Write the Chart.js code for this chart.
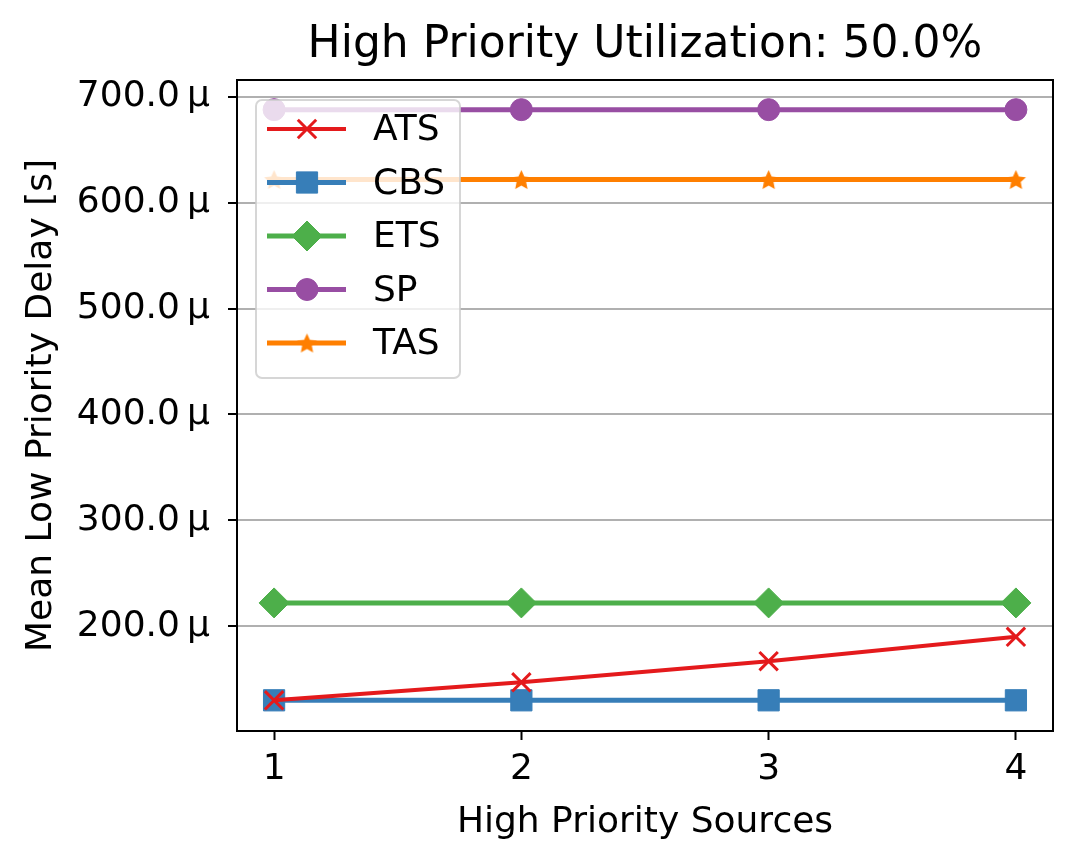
<!DOCTYPE html>
<html>
<head>
<meta charset="utf-8">
<script src="https://cdn.jsdelivr.net/npm/chart.js@4/dist/chart.umd.min.js"></script>
<style>
  html, body { margin: 0; padding: 0; background: #fff; }
  #wrap { width: 1080px; height: 868px; }
</style>
</head>
<body>
<div id="wrap"><canvas id="delayChart" width="1080" height="868"></canvas></div>
<script>
// values in microseconds
const sources = [1, 2, 3, 4];
const atsDelay = [130, 147, 167, 190];
const cbsDelay = [130, 130, 130, 130];
const etsDelay = [222, 222, 222, 222];
const spDelay = [688, 688, 688, 688];
const tasDelay = [622, 622, 622, 622];
const yTicks = [200, 300, 400, 500, 600, 700];
const xTicks = [1, 2, 3, 4];
const chartTitle = 'High Priority Utilization: 50.0%';

// matplotlib-style filled star marker
function makeStar(color, r) {
    const c = document.createElement('canvas');
    const s = Math.ceil(r * 2 + 2);
    c.width = s; c.height = s;
    const g = c.getContext('2d');
    g.fillStyle = color;
    g.beginPath();
    for (let i = 0; i < 10; i++) {
        const rad = i % 2 === 0 ? r : r * 0.48;
        const a = -Math.PI / 2 + i * Math.PI / 5;
        const px = s / 2 + rad * Math.cos(a), py = s / 2 + 1 + rad * Math.sin(a);
        i === 0 ? g.moveTo(px, py) : g.lineTo(px, py);
    }
    g.closePath();
    g.fill();
    return c;
}

function series(label, values, color, style, radius, width) {
    return {
        label: label,
        data: sources.map((x, i) => ({ x: x, y: values[i] })),
        borderColor: color,
        backgroundColor: color,
        borderWidth: width,
        pointStyle: style,
        pointRadius: radius,
        pointBorderColor: color,
        pointBackgroundColor: color,
        pointBorderWidth: style === 'crossRot' ? 3 : 1,
        tension: 0
    };
}

const datasets = [
    series('ATS', atsDelay, '#e41a1c', 'crossRot', 13, 4),
    series('CBS', cbsDelay, '#377eb8', 'rect', 15, 5),
    series('ETS', etsDelay, '#4daf4a', 'rectRot', 15, 5),
    series('SP', spDelay, '#984ea3', 'circle', 11, 5),
    series('TAS', tasDelay, '#ff7f00', makeStar('#ff7f00', 10.5), 10, 5)
];

// title over the axes, legend box inside the axes, top/right spines
const boxPlugin = {
    id: 'boxPlugin',
    afterDraw(chart) {
        const ctx = chart.ctx;
        const a = chart.chartArea;
        ctx.save();
        ctx.strokeStyle = '#000';
        ctx.lineWidth = 2;
        ctx.strokeRect(a.left, a.top, a.right - a.left, a.bottom - a.top);

        ctx.fillStyle = '#000';
        ctx.font = '44px "DejaVu Sans"';
        ctx.textAlign = 'center';
        ctx.textBaseline = 'middle';
        ctx.fillText(chartTitle, (a.left + a.right) / 2, 46);

        const lx = 256, ly = 100, lw = 204, lh = 278;
        ctx.fillStyle = 'rgba(255,255,255,0.8)';
        ctx.strokeStyle = 'rgba(204,204,204,0.8)';
        ctx.lineWidth = 2;
        ctx.beginPath();
        ctx.roundRect(lx, ly, lw, lh, 6);
        ctx.fill();
        ctx.stroke();

        ctx.font = '36px "DejaVu Sans"';
        ctx.textBaseline = 'middle';
        ctx.textAlign = 'left';
        chart.data.datasets.forEach((ds, i) => {
            const y = ly + 29 + i * 53.5;
            ctx.strokeStyle = ds.borderColor;
            ctx.lineWidth = ds.borderWidth;
            ctx.beginPath();
            ctx.moveTo(lx + 11, y);
            ctx.lineTo(lx + 90, y);
            ctx.stroke();
            ctx.fillStyle = ds.pointBackgroundColor;
            ctx.strokeStyle = ds.pointBorderColor;
            ctx.lineWidth = ds.pointBorderWidth;
            Chart.helpers.drawPoint(ctx, {
                pointStyle: ds.pointStyle,
                radius: ds.pointRadius,
                borderWidth: ds.pointBorderWidth,
                rotation: 0
            }, lx + 51, y);
            ctx.fillStyle = '#000';
            ctx.fillText(ds.label, lx + 117, y + 2);
        });
        ctx.restore();
    }
};

const ctx = document.getElementById('delayChart').getContext('2d');
new Chart(ctx, {
    type: 'line',
    data: { datasets: datasets },
    plugins: [boxPlugin],
    options: {
        responsive: false,
        devicePixelRatio: 1,
        animation: false,
        layout: { padding: { left: 0, right: 27, top: 80, bottom: 0 } },
        plugins: {
            legend: { display: false },
            tooltip: { enabled: false },
            title: { display: false }
        },
        scales: {
            x: {
                type: 'linear',
                min: 0.85,
                max: 4.15,
                afterBuildTicks: s => { s.ticks = xTicks.map(v => ({ value: v })); },
                afterFit: s => { s.height = 137; },
                grid: { drawOnChartArea: false, tickLength: 9, tickWidth: 2, tickColor: '#000' },
                border: { color: '#000', width: 2 },
                ticks: {
                    color: '#000',
                    padding: 8,
                    font: { family: 'DejaVu Sans', size: 36 },
                    callback: v => String(v)
                },
                title: {
                    display: true,
                    text: 'High Priority Sources',
                    color: '#000',
                    font: { family: 'DejaVu Sans', size: 36 },
                    padding: { top: 8, bottom: 24 }
                }
            },
            y: {
                type: 'linear',
                min: 101,
                max: 716,
                afterBuildTicks: s => { s.ticks = yTicks.map(v => ({ value: v })); },
                afterFit: s => { s.width = 237; },
                grid: { color: '#b0b0b0', lineWidth: 2, tickLength: 9, tickWidth: 2, tickColor: '#000' },
                border: { color: '#000', width: 2 },
                ticks: {
                    color: '#000',
                    padding: 18,
                    font: { family: 'DejaVu Sans', size: 36 },
                    callback: v => v.toFixed(1) + '\u2009\u00b5'
                },
                title: {
                    display: true,
                    text: 'Mean Low Priority Delay [s]',
                    color: '#000',
                    font: { family: 'DejaVu Sans', size: 36 },
                    padding: { top: 20, bottom: 8 }
                }
            }
        }
    }
});
</script>
</body>
</html>
